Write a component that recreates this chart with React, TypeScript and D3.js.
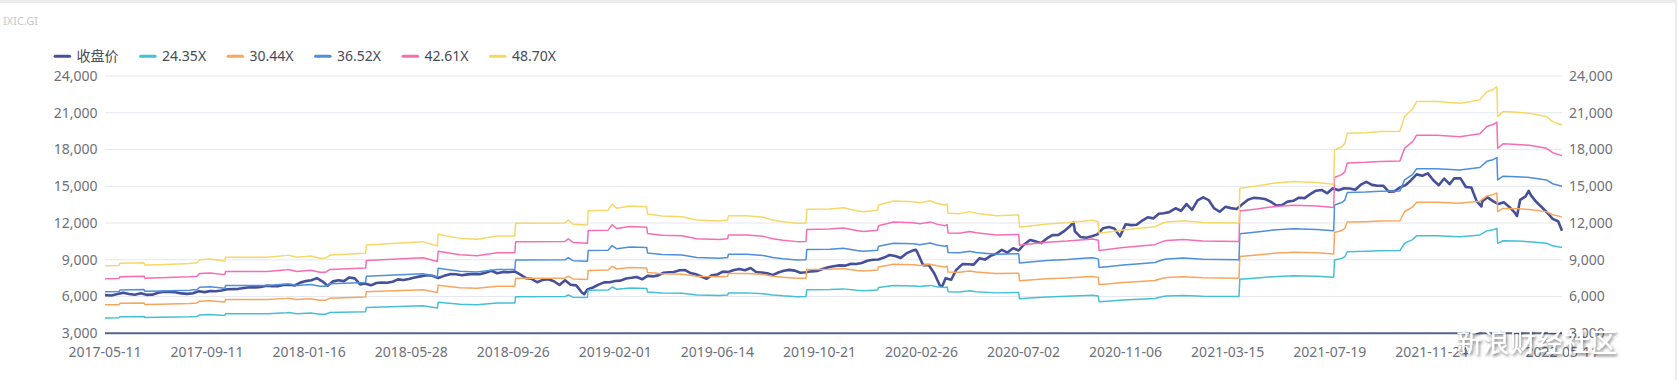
import React, { useEffect } from "react";
import * as d3 from "d3";

// ---------------- data ----------------
const TITLE = "IXIC.GI";
const CLOSE_NAME = "收盘价";
const PE_MULTIPLES = [24.35, 30.44, 36.52, 42.61, 48.7];
const PE_NAMES = ["24.35X", "30.44X", "36.52X", "42.61X", "48.70X"];
const X_TICK_LABELS = [
  "2017-05-11", "2017-09-11", "2018-01-16", "2018-05-28", "2018-09-26",
  "2019-02-01", "2019-06-14", "2019-10-21", "2020-02-26", "2020-07-02",
  "2020-11-06", "2021-03-15", "2021-07-19", "2021-11-24",
];
const X_LAST_LABEL = "2022-05-11";
const Y_TICKS = [3000, 6000, 9000, 12000, 15000, 18000, 21000, 24000];

// weekly close of the index
const CLOSE: [string, number][] = [
  ["2017-05-11", 6115], ["2017-05-19", 6084], ["2017-05-26", 6210], ["2017-06-02", 6306], ["2017-06-09", 6208],
  ["2017-06-16", 6152], ["2017-06-23", 6265], ["2017-06-30", 6140], ["2017-07-07", 6153], ["2017-07-14", 6312],
  ["2017-07-21", 6388], ["2017-07-28", 6374], ["2017-08-04", 6352], ["2017-08-11", 6256], ["2017-08-18", 6217],
  ["2017-08-25", 6265], ["2017-09-01", 6435], ["2017-09-08", 6360], ["2017-09-15", 6448], ["2017-09-22", 6426],
  ["2017-09-29", 6496], ["2017-10-06", 6590], ["2017-10-13", 6606], ["2017-10-20", 6629], ["2017-10-27", 6701],
  ["2017-11-03", 6764], ["2017-11-10", 6750], ["2017-11-17", 6783], ["2017-11-24", 6889], ["2017-12-01", 6848],
  ["2017-12-08", 6840], ["2017-12-15", 6936], ["2017-12-22", 6959], ["2017-12-29", 6903], ["2018-01-05", 7136],
  ["2018-01-12", 7261], ["2018-01-19", 7336], ["2018-01-26", 7506], ["2018-02-02", 7241], ["2018-02-09", 6874],
  ["2018-02-16", 7239], ["2018-02-23", 7337], ["2018-03-02", 7258], ["2018-03-09", 7560], ["2018-03-16", 7482],
  ["2018-03-23", 6993], ["2018-03-29", 7063], ["2018-04-06", 6915], ["2018-04-13", 7107], ["2018-04-20", 7146],
  ["2018-04-27", 7120], ["2018-05-04", 7210], ["2018-05-11", 7403], ["2018-05-18", 7354], ["2018-05-25", 7434],
  ["2018-06-01", 7554], ["2018-06-08", 7646], ["2018-06-15", 7746], ["2018-06-22", 7693], ["2018-06-29", 7510],
  ["2018-07-06", 7688], ["2018-07-13", 7826], ["2018-07-20", 7820], ["2018-07-27", 7737], ["2018-08-03", 7812],
  ["2018-08-10", 7839], ["2018-08-17", 7816], ["2018-08-24", 7946], ["2018-08-31", 8110], ["2018-09-07", 7903],
  ["2018-09-14", 8010], ["2018-09-21", 7987], ["2018-09-28", 8046], ["2018-10-05", 7788], ["2018-10-12", 7497],
  ["2018-10-19", 7449], ["2018-10-26", 7167], ["2018-11-02", 7357], ["2018-11-09", 7407], ["2018-11-16", 7248],
  ["2018-11-23", 6939], ["2018-11-30", 7331], ["2018-12-07", 6969], ["2018-12-14", 6911], ["2018-12-21", 6333],
  ["2018-12-24", 6193], ["2018-12-28", 6585], ["2019-01-04", 6739], ["2019-01-11", 6971], ["2019-01-18", 7157],
  ["2019-01-25", 7164], ["2019-02-01", 7263], ["2019-02-08", 7298], ["2019-02-15", 7472], ["2019-02-22", 7527],
  ["2019-03-01", 7595], ["2019-03-08", 7408], ["2019-03-15", 7688], ["2019-03-22", 7643], ["2019-03-29", 7729],
  ["2019-04-05", 7939], ["2019-04-12", 7984], ["2019-04-18", 7998], ["2019-04-26", 8146], ["2019-05-03", 8164],
  ["2019-05-10", 7917], ["2019-05-17", 7816], ["2019-05-24", 7637], ["2019-05-31", 7453], ["2019-06-07", 7742],
  ["2019-06-14", 7797], ["2019-06-21", 8032], ["2019-06-28", 8006], ["2019-07-05", 8162], ["2019-07-12", 8244],
  ["2019-07-19", 8146], ["2019-07-26", 8330], ["2019-08-02", 8004], ["2019-08-09", 7959], ["2019-08-16", 7896],
  ["2019-08-23", 7751], ["2019-08-30", 7963], ["2019-09-06", 8103], ["2019-09-13", 8176], ["2019-09-20", 8118],
  ["2019-09-27", 7940], ["2019-10-04", 7982], ["2019-10-11", 8057], ["2019-10-18", 8090], ["2019-10-25", 8243],
  ["2019-11-01", 8386], ["2019-11-08", 8475], ["2019-11-15", 8541], ["2019-11-22", 8520], ["2019-11-29", 8665],
  ["2019-12-06", 8657], ["2019-12-13", 8735], ["2019-12-20", 8925], ["2019-12-27", 9007], ["2020-01-03", 9021],
  ["2020-01-10", 9179], ["2020-01-17", 9389], ["2020-01-24", 9315], ["2020-01-31", 9151], ["2020-02-07", 9520],
  ["2020-02-14", 9731], ["2020-02-19", 9817], ["2020-02-21", 9577], ["2020-02-28", 8567], ["2020-03-06", 8576],
  ["2020-03-13", 7875], ["2020-03-20", 6880], ["2020-03-23", 6861], ["2020-03-27", 7502], ["2020-04-03", 7373],
  ["2020-04-09", 8154], ["2020-04-17", 8650], ["2020-04-24", 8634], ["2020-05-01", 8605], ["2020-05-08", 9121],
  ["2020-05-15", 9015], ["2020-05-22", 9325], ["2020-05-29", 9490], ["2020-06-05", 9814], ["2020-06-12", 9589],
  ["2020-06-19", 9946], ["2020-06-26", 9757], ["2020-07-02", 10208], ["2020-07-10", 10617], ["2020-07-17", 10503],
  ["2020-07-24", 10363], ["2020-07-31", 10745], ["2020-08-07", 11011], ["2020-08-14", 11019], ["2020-08-21", 11312],
  ["2020-08-28", 11696], ["2020-09-02", 12056], ["2020-09-04", 11313], ["2020-09-11", 10854], ["2020-09-18", 10794],
  ["2020-09-25", 10914], ["2020-10-02", 11075], ["2020-10-09", 11580], ["2020-10-16", 11672], ["2020-10-23", 11548],
  ["2020-10-30", 10912], ["2020-11-06", 11895], ["2020-11-13", 11830], ["2020-11-20", 11855], ["2020-11-27", 12206],
  ["2020-12-04", 12464], ["2020-12-11", 12378], ["2020-12-18", 12756], ["2020-12-24", 12805], ["2020-12-31", 12888],
  ["2021-01-08", 13202], ["2021-01-15", 12998], ["2021-01-22", 13543], ["2021-01-29", 13071], ["2021-02-05", 13856],
  ["2021-02-12", 14095], ["2021-02-19", 13874], ["2021-02-26", 13192], ["2021-03-05", 12920], ["2021-03-12", 13320],
  ["2021-03-19", 13215], ["2021-03-26", 13139], ["2021-04-01", 13480], ["2021-04-09", 13900], ["2021-04-16", 14052],
  ["2021-04-23", 14016], ["2021-04-30", 13962], ["2021-05-07", 13752], ["2021-05-14", 13430], ["2021-05-21", 13471],
  ["2021-05-28", 13749], ["2021-06-04", 13814], ["2021-06-11", 14069], ["2021-06-18", 14030], ["2021-06-25", 14360],
  ["2021-07-02", 14639], ["2021-07-09", 14701], ["2021-07-16", 14427], ["2021-07-23", 14837], ["2021-07-30", 14673],
  ["2021-08-06", 14835], ["2021-08-13", 14823], ["2021-08-20", 14714], ["2021-08-27", 15130], ["2021-09-03", 15363],
  ["2021-09-10", 15115], ["2021-09-17", 15044], ["2021-09-24", 15048], ["2021-10-01", 14567], ["2021-10-08", 14580],
  ["2021-10-15", 14897], ["2021-10-22", 15090], ["2021-10-29", 15498], ["2021-11-05", 15971], ["2021-11-12", 15861],
  ["2021-11-19", 16057], ["2021-11-26", 15491], ["2021-12-03", 15085], ["2021-12-10", 15630], ["2021-12-17", 15170],
  ["2021-12-23", 15653], ["2021-12-31", 15645], ["2022-01-07", 14936], ["2022-01-14", 14894], ["2022-01-21", 13769],
  ["2022-01-27", 13353], ["2022-01-28", 13770], ["2022-02-04", 14098], ["2022-02-11", 13791], ["2022-02-18", 13548],
  ["2022-02-25", 13694], ["2022-03-04", 13313], ["2022-03-11", 12843], ["2022-03-14", 12581], ["2022-03-18", 13894],
  ["2022-03-25", 14169], ["2022-03-29", 14619], ["2022-04-01", 14262], ["2022-04-08", 13711], ["2022-04-14", 13351],
  ["2022-04-22", 12840], ["2022-04-29", 12335], ["2022-05-06", 12145], ["2022-05-11", 11364],
];

// earnings per share (index points) behind the PE bands
const EPS: [string, number][] = [
  ["2017-05-11", 174.9], ["2017-05-28", 175.4], ["2017-05-29", 178.9], ["2017-06-27", 179.9], ["2017-06-28", 176.0],
  ["2017-07-16", 176.6], ["2017-08-21", 178.6], ["2017-08-30", 179.9], ["2017-09-02", 184.8], ["2017-09-15", 186.0],
  ["2017-10-03", 182.8], ["2017-10-04", 188.9], ["2017-11-25", 188.9], ["2017-12-19", 192.2], ["2017-12-21", 192.6],
  ["2018-01-01", 188.9], ["2018-01-18", 191.2], ["2018-01-30", 187.3], ["2018-02-06", 187.3], ["2018-02-12", 192.8],
  ["2018-03-30", 195.7], ["2018-03-31", 209.7], ["2018-06-11", 215.2], ["2018-06-28", 207.8], ["2018-06-29", 227.5],
  ["2018-07-25", 220.7], ["2018-08-14", 219.1], ["2018-09-07", 224.6], ["2018-09-28", 224.6], ["2018-09-29", 246.0],
  ["2018-11-30", 246.4], ["2018-12-04", 251.5], ["2018-12-10", 244.4], ["2018-12-28", 243.1], ["2018-12-29", 267.1],
  ["2019-01-23", 268.0], ["2019-01-28", 278.2], ["2019-02-03", 271.0], ["2019-02-20", 274.9], ["2019-03-14", 273.7],
  ["2019-03-15", 261.6], ["2019-04-03", 258.1], ["2019-04-29", 257.1], ["2019-05-18", 251.5], ["2019-06-17", 249.9],
  ["2019-06-27", 251.5], ["2019-06-28", 258.7], ["2019-07-21", 258.7], ["2019-08-11", 256.1], ["2019-08-23", 251.5],
  ["2019-09-05", 248.7], ["2019-09-23", 246.0], ["2019-10-04", 246.4], ["2019-10-05", 269.4], ["2019-11-03", 270.0],
  ["2019-11-20", 272.1], ["2019-12-07", 267.1], ["2019-12-15", 265.5], ["2020-01-02", 268.0], ["2020-01-03", 276.6],
  ["2020-01-22", 283.4], ["2020-02-16", 282.1], ["2020-02-24", 280.3], ["2020-03-08", 283.8], ["2020-03-16", 279.5],
  ["2020-03-26", 276.6], ["2020-03-29", 278.2], ["2020-03-30", 262.6], ["2020-04-13", 262.0], ["2020-04-26", 265.5],
  ["2020-05-04", 262.8], ["2020-05-29", 258.7], ["2020-06-23", 259.8], ["2020-06-26", 259.8], ["2020-06-27", 239.2],
  ["2020-07-10", 241.3], ["2020-07-31", 244.8], ["2020-08-25", 247.0], ["2020-09-19", 250.3], ["2020-09-26", 250.9],
  ["2020-10-03", 248.5], ["2020-10-04", 229.2], ["2020-10-14", 231.0], ["2020-11-03", 234.7], ["2020-11-24", 237.6],
  ["2020-12-13", 240.2], ["2020-12-23", 246.4], ["2020-12-28", 248.0], ["2021-01-18", 250.3], ["2021-02-12", 247.4],
  ["2021-03-29", 246.4], ["2021-03-30", 304.5], ["2021-04-20", 308.4], ["2021-05-10", 312.9], ["2021-06-04", 315.8],
  ["2021-07-03", 314.2], ["2021-07-24", 311.3], ["2021-07-25", 368.8], ["2021-08-03", 374.3], ["2021-08-07", 379.9],
  ["2021-08-10", 396.7], ["2021-09-02", 397.9], ["2021-09-20", 399.6], ["2021-10-15", 400.4], ["2021-10-21", 425.1],
  ["2021-10-26", 431.2], ["2021-10-31", 437.4], ["2021-11-05", 449.9], ["2021-12-01", 449.9], ["2021-12-30", 447.0],
  ["2022-01-12", 449.7], ["2022-01-25", 452.8], ["2022-02-03", 466.5], ["2022-02-11", 470.2], ["2022-02-16", 474.9],
  ["2022-02-17", 424.8], ["2022-02-24", 433.3], ["2022-03-14", 432.2], ["2022-03-30", 430.4], ["2022-04-21", 424.8],
  ["2022-04-29", 416.4], ["2022-05-11", 410.7],
];

// ---------------- layout / style ----------------
const W = 1677;
const H = 380;
const M = { left: 105, right: 1562, top: 76, bottom: 333.3 };
// category axis: a label every TICK_INTERVAL points out of TOTAL_POINTS
const TICK_INTERVAL = 87;
const TOTAL_POINTS = 1242;
const CLOSE_COLOR = "#46509a";
const BAND_COLORS = ["#45bfd6", "#f8a65e", "#4d8fdc", "#f66db4", "#f5d867"];
const FONT = '"Noto Sans", "Noto Sans CJK SC", sans-serif';
const AXIS_TEXT = "#6e7079";

const parse = d3.timeParse("%Y-%m-%d");

export default function App() {
  useEffect(() => {
    document.body.style.margin = "0";
  }, []);

  const tickDates = X_TICK_LABELS.map((s) => parse(s) as Date);
  const lastDate = parse(X_LAST_LABEL) as Date;
  const step = ((M.right - M.left) * TICK_INTERVAL) / TOTAL_POINTS;
  const x = d3
    .scaleTime()
    .domain([...tickDates, lastDate])
    .range([...tickDates.map((_, i) => M.left + i * step), M.right]);
  const y = d3.scaleLinear().domain([3000, 24000]).range([M.bottom, M.top]);

  const line = d3
    .line<[Date, number]>()
    .x((d) => x(d[0]))
    .y((d) => y(d[1]));

  const closePts: [Date, number][] = CLOSE.map(([d, v]) => [parse(d) as Date, v]);
  const bands = PE_MULTIPLES.map((m) =>
    EPS.map(([d, e]) => [parse(d) as Date, e * m] as [Date, number])
  );

  // legend layout
  const ctx = document.createElement("canvas").getContext("2d")!;
  ctx.font = `14px ${FONT}`;
  const legendNames = [CLOSE_NAME, ...PE_NAMES];
  const legendColors = [CLOSE_COLOR, ...BAND_COLORS];
  let lx = 53.6;
  const legendItems = legendNames.map((name, i) => {
    const item = { name, color: legendColors[i], x: lx };
    lx += 17.5 + 5.5 + ctx.measureText(name).width + 20.5;
    return item;
  });

  const xLabels = [
    ...X_TICK_LABELS.map((s, i) => ({ s, d: tickDates[i] })),
    { s: X_LAST_LABEL, d: lastDate },
  ];

  return (
    <svg
      width={W}
      height={H}
      style={{ position: "absolute", left: 0, top: 0, background: "#fff", fontFamily: FONT }}
    >
      <defs>
        <filter id="wmShadow" x="-20%" y="-40%" width="140%" height="180%">
          <feDropShadow dx="1.5" dy="2" stdDeviation="1.8" floodColor="#000" floodOpacity="0.55" />
        </filter>
      </defs>
      <rect x={0} y={0} width={W} height={H} fill="#fff" />
      <rect x={0} y={0} width={W} height={3} fill="#ececec" />
      <rect x={W - 2} y={0} width={2} height={H} fill="#ececec" />

      <text x={3} y={25} fontSize={11} fill="#c8c8c8">
        {TITLE}
      </text>

      {/* legend */}
      {legendItems.map((it) => (
        <g key={it.name}>
          <rect x={it.x} y={54.8} width={17.5} height={3} rx={1.5} fill={it.color} />
          <text x={it.x + 23} y={56.3} dy="0.35em" fontSize={14} fill="#464a5a">
            {it.name}
          </text>
        </g>
      ))}

      {/* grid */}
      {Y_TICKS.filter((t) => t !== 3000).map((t) => (
        <line key={t} x1={M.left} x2={M.right} y1={y(t)} y2={y(t)} stroke="#e6e7ef" strokeWidth={1} />
      ))}

      {/* y labels */}
      {Y_TICKS.map((t) => (
        <g key={"yl" + t}>
          <text x={97.5} y={y(t)} dy="0.35em" textAnchor="end" fontSize={14} fill={AXIS_TEXT}>
            {d3.format(",")(t)}
          </text>
          <text x={1569} y={y(t)} dy="0.35em" textAnchor="start" fontSize={14} fill={AXIS_TEXT}>
            {d3.format(",")(t)}
          </text>
        </g>
      ))}

      {/* series */}
      <path d={line(closePts) || ""} fill="none" stroke={CLOSE_COLOR} strokeWidth={2.6} strokeLinejoin="round" />
      {bands.map((b, i) => (
        <path key={i} d={line(b) || ""} fill="none" stroke={BAND_COLORS[i]} strokeWidth={1.5} strokeLinejoin="round" />
      ))}

      {/* x axis */}
      <line x1={M.left} x2={M.right} y1={M.bottom} y2={M.bottom} stroke="#56638e" strokeWidth={2} />
      {xLabels.map((l) => (
        <text key={l.s} x={x(l.d)} y={352} dy="0.35em" textAnchor="middle" fontSize={14} fill={AXIS_TEXT}>
          {l.s}
        </text>
      ))}

      {/* watermark */}
      <text x={1456} y={352} fontSize={26} fill="#fff" filter="url(#wmShadow)" letterSpacing={1}>
        新浪财经社区
      </text>
    </svg>
  );
}
